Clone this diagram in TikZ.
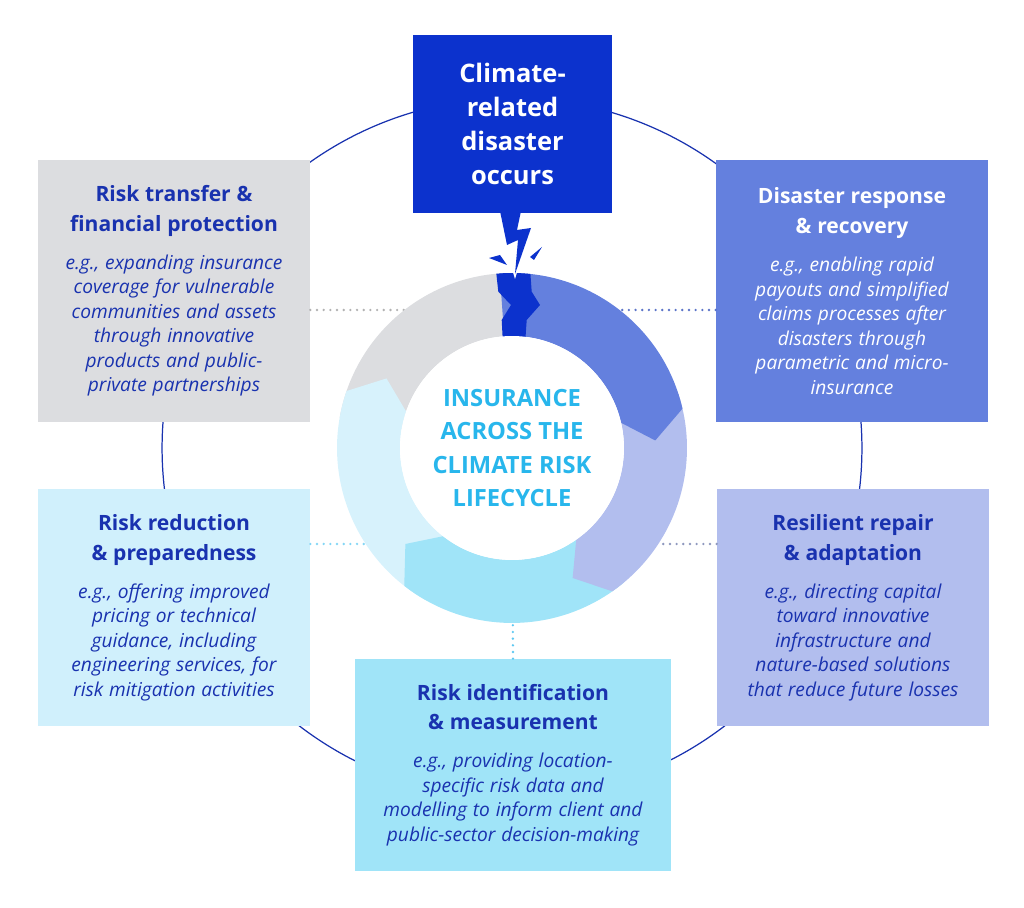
\documentclass[tikz,border=0pt]{standalone}
\usepackage{fontspec}
\setmainfont{Open Sans}
\usetikzlibrary{positioning,calc}

\definecolor{deepblue}{RGB}{12,50,205}
\definecolor{inkblue}{RGB}{25,50,175}
\definecolor{greybox}{RGB}{220,221,224}
\definecolor{midblue}{RGB}{100,128,222}
\definecolor{paleblue}{RGB}{208,240,252}
\definecolor{lilac}{RGB}{178,190,238}
\definecolor{skyblue}{RGB}{160,228,248}
\definecolor{hubtext}{RGB}{40,182,236}

\newcommand\stagetitle[1]{{\fontsize{12pt}{17pt}\selectfont\bfseries #1\par}\vspace{7.6pt}}
\newcommand\stagebody[1]{{\fontsize{10.9pt}{13.95pt}\selectfont\itshape #1\par}}
\newcommand\ringpart[3]{\fill[#1] ($(mid)+(#2:3.5cm)$) arc[start angle=#2,end angle=#3,radius=3.5cm]
  -- ($(mid)+({#3-10}:2.87cm)$) -- ($(mid)+(#3:2.24cm)$) arc[start angle=#3,end angle=#2,radius=2.24cm] -- cycle;}

\begin{document}
\begin{tikzpicture}[x=0.02cm,y=0.02cm,
    stage/.style={rectangle,inner sep=0pt,align=center,text=inkblue,minimum width=5.44cm,text width=5.4cm},
    dots/.style={line width=1.5pt,line cap=round,dash pattern=on 0pt off 3.8pt}]
    \useasboundingbox (0,0) rectangle (1024,908);
    \coordinate (mid) at (512,460); %centre of the cycle
    \draw[inkblue,line width=0.7pt] (mid) circle[radius=7cm]; %thin ring

    % stages
    \node[stage,fill=deepblue,text=white,minimum width=3.98cm,minimum height=3.56cm,text width=3.8cm,
        font=\fontsize{14.5pt}{19.3pt}\selectfont\bfseries] (event) at (512.5,784) {Climate-\\related\\disaster\\occurs};
    \node[stage,fill=greybox,minimum height=5.24cm] (transfer) at (174,617)
        {\stagetitle{Risk transfer \&\\financial protection}\stagebody{e.g., expanding insurance\\coverage for vulnerable\\communities and assets\\through innovative\\products and public-\\private partnerships}};
    \node[stage,fill=midblue,text=white,minimum height=5.24cm] (response) at (852,617)
        {\stagetitle{Disaster response\\\& recovery}\stagebody{e.g., enabling rapid\\payouts and simplified\\claims processes after\\disasters through\\parametric and micro-\\insurance}};
    \node[stage,fill=paleblue,minimum height=4.74cm] (reduction) at (174,300.5)
        {\stagetitle{Risk reduction\\\& preparedness}\stagebody{e.g., offering improved\\pricing or technical\\guidance, including\\engineering services, for\\risk mitigation activities}};
    \node[stage,fill=lilac,minimum height=4.74cm] (repair) at (853,300.5)
        {\stagetitle{Resilient repair\\\& adaptation}\stagebody{e.g., directing capital\\toward innovative\\infrastructure and\\nature-based solutions\\that reduce future losses}};
    \node[stage,fill=skyblue,minimum width=6.32cm,minimum height=4.24cm,text width=6.2cm] (identify) at (513,143)
        {\stagetitle{Risk identification\\\& measurement}\stagebody{e.g., providing location-\\specific risk data and\\modelling to inform client and\\public-sector decision-making}};

    % dotted links
    \coordinate (upper) at (0,598);
    \coordinate (lower) at (0,364);
    \draw[dots,draw=black!30] (transfer.east |- upper) -- (mid |- upper);
    \draw[dots,draw=midblue!90!black] (response.west |- upper) -- (mid |- upper);
    \draw[dots,draw=paleblue!55!hubtext] (reduction.east |- lower) -- (mid |- lower);
    \draw[dots,draw=lilac!80!black] (repair.west |- lower) -- (mid |- lower);
    \draw[dots,draw=hubtext!75] (identify.north) -- (mid);

    % cycle
    \ringpart{greybox}{170}{92}
    \ringpart{paleblue!85!white}{240}{161}
    \ringpart{skyblue}{310}{232}
    \ringpart{lilac}{378}{305}
    \ringpart{midblue}{94}{13}
    \begin{scope}
        \clip (mid) circle[radius=3.5cm];
        \fill[deepblue] (495.7,640) -- (530,640) -- (531.7,616.3) -- (540,603) -- (526.7,588) -- (525,563)
            -- (503,563) -- (501.7,588) -- (511,603) -- (498.3,616.3) -- cycle; %crack
        \fill[white] (511.7,640) -- (518.3,640) -- (515,629) -- cycle;
    \end{scope}
    \node[circle,fill=white,minimum size=4.48cm,inner sep=0pt,align=center,text=hubtext,
        font=\fontsize{13.5pt}{19.1pt}\selectfont\bfseries] (hub) at (mid) {INSURANCE\\ACROSS THE\\CLIMATE RISK\\LIFECYCLE};

    % bolt
    \fill[deepblue] (500,697) -- (521,697) -- (517,678) -- (531,680) -- (515,634) -- (518,668) -- (507,663) -- cycle;
    \fill[deepblue] (489,650) -- (500,653) -- (507,643) -- cycle;
    \fill[deepblue] (542,661) -- (530,651) -- (534,648) -- cycle;
\end{tikzpicture}
\end{document}
